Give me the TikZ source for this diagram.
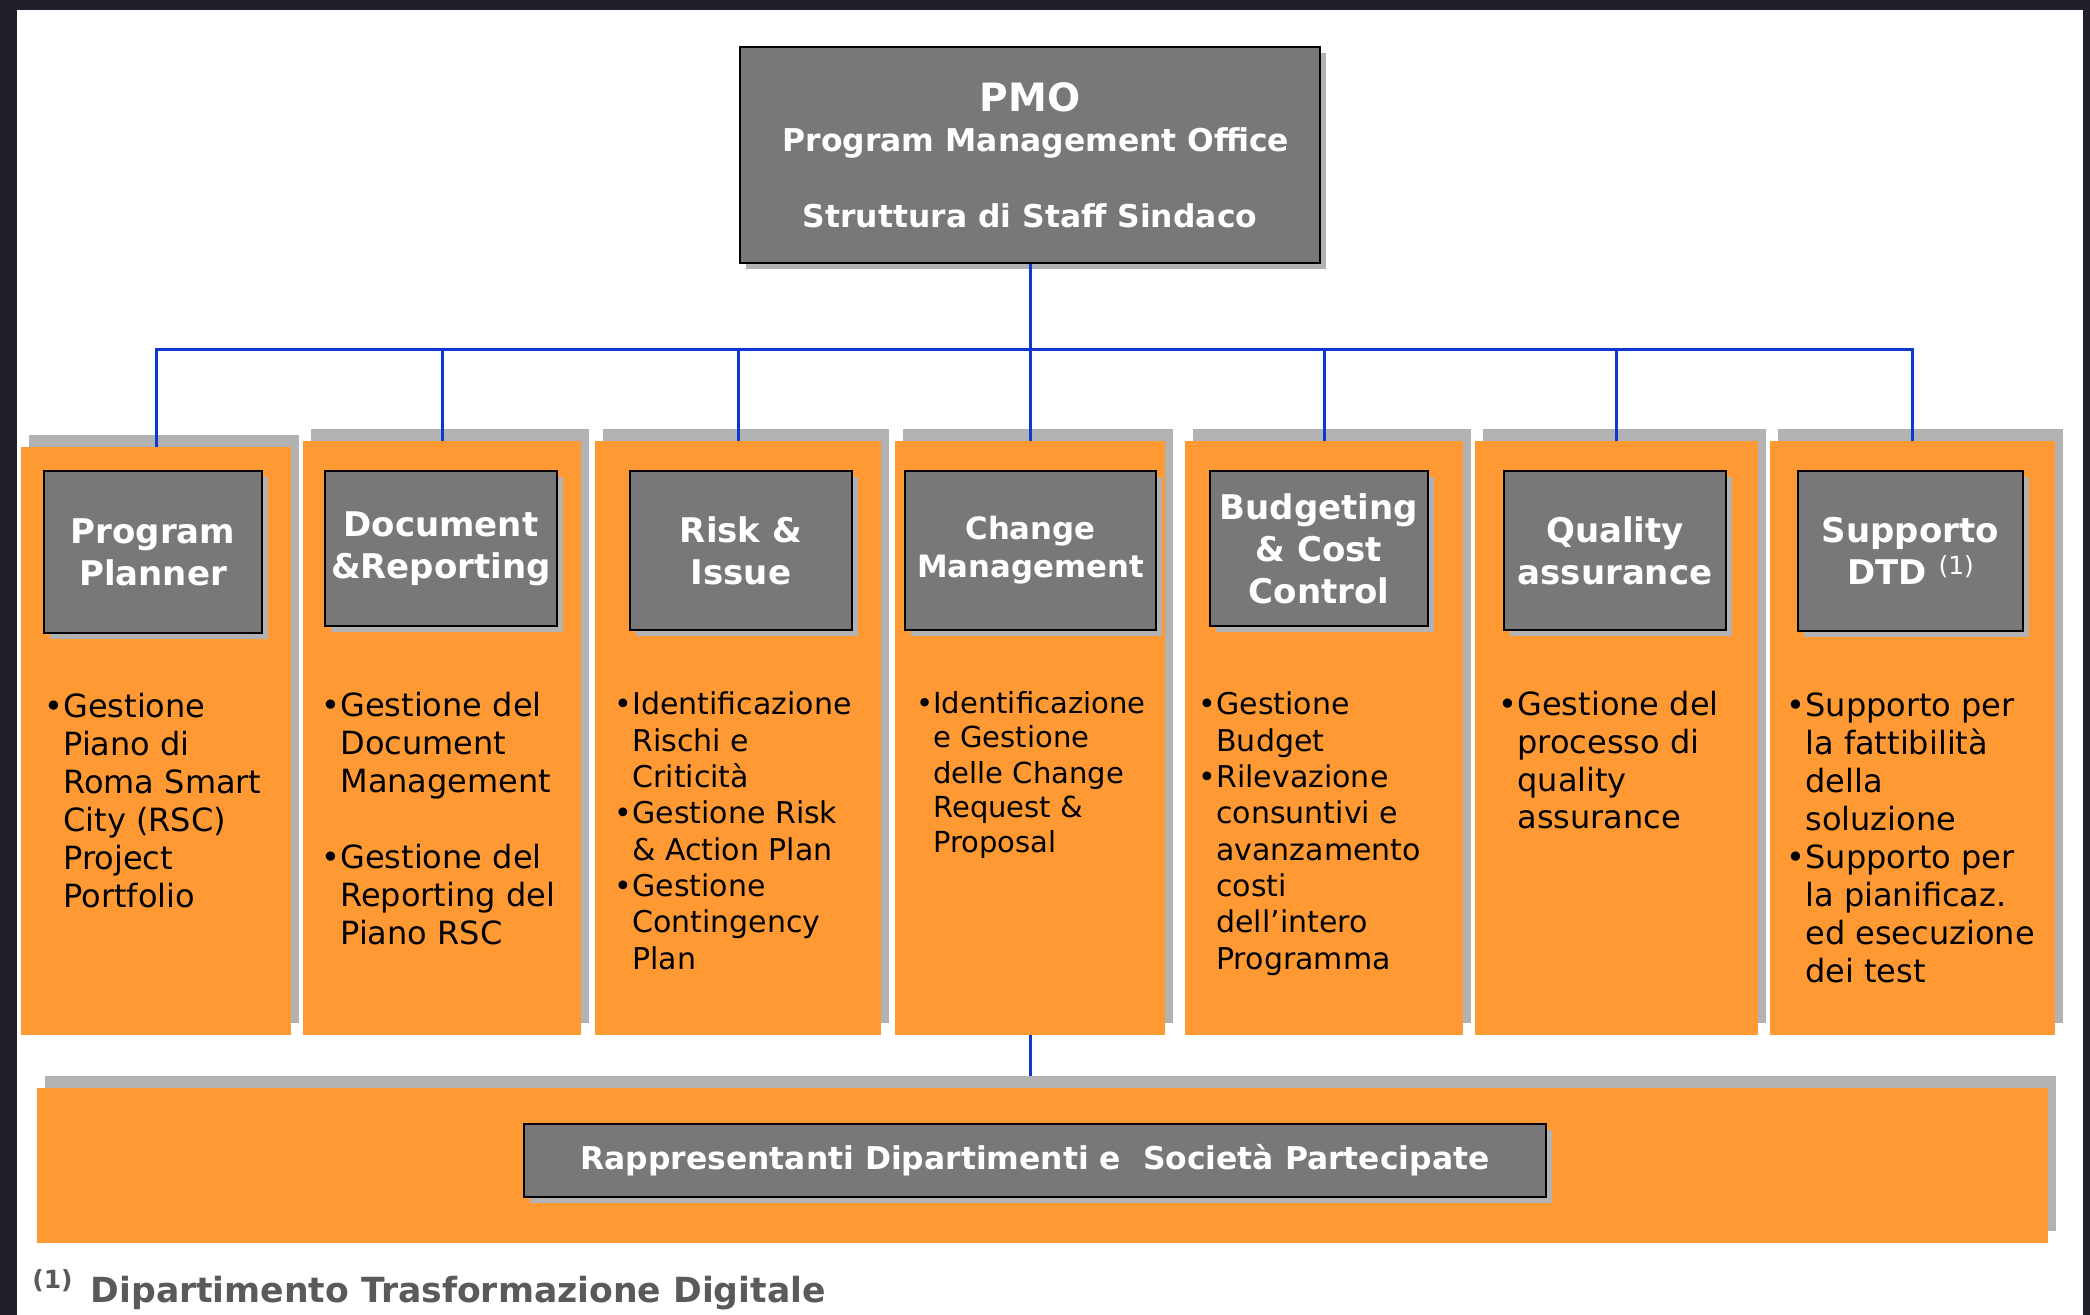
\documentclass[tikz,border=0pt]{standalone}
\usepackage{fontspec}
\setmainfont{DejaVu Sans}
\usetikzlibrary{shadows}
\definecolor{framedark}{RGB}{31,32,42}
\definecolor{boxgray}{RGB}{120,120,120}
\definecolor{shgray}{RGB}{178,178,178}
\definecolor{orng}{RGB}{254,153,51}
\definecolor{linkblue}{RGB}{16,56,208}
\definecolor{notegray}{RGB}{90,90,90}
\newcommand{\itm}{\llap{\textbullet}}
\begin{document}
\begin{tikzpicture}[x=0.5pt, y=-0.5pt,
    colbox/.style={rectangle, fill=orng, inner sep=0pt, minimum height=297pt,
        drop shadow={shadow xshift=4pt, shadow yshift=6pt, fill=shgray, opacity=1}},
    hdbox/.style={rectangle, fill=boxgray, draw=black, line width=1pt, text=white,
        align=center, inner sep=0pt, font=\bfseries\fontsize{17}{21}\selectfont,
        drop shadow={shadow xshift=3pt, shadow yshift=-3pt, fill=shgray, opacity=1}},
    bodytxt/.style={anchor=base west, align=left, inner sep=0pt, font=\fontsize{16}{19}\selectfont},
    link/.style={linkblue, line width=1.5pt}]
% \draw[help lines] (0,0) grid (2090,1315);
\fill[framedark] (0,0) rectangle (2090,1315);
\fill[white] (17,10) rectangle (2083,1315);
\useasboundingbox (0,0) rectangle (2090,1315);

\begin{scope}
    % the seven orange columns
    \node[colbox, minimum width=135pt, minimum height=294pt] (col1) at (156,741) {};
    \foreach \n/\cx/\w in {2/442/139, 3/738/143, 4/1030/135, 5/1324/139, 6/1616.5/141.5, 7/1912.5/142.5}
        \node[colbox, minimum width=\w pt] (col\n) at (\cx,738) {};

    % headers
    \foreach \n/\cx/\cy/\w/\h/\txt in {1/153/552/109/81/{Program\\Planner},
        2/441/548.5/116/77.5/{Document\\\&Reporting},
        3/741/550.5/111/79.5/{Risk \&\\Issue},
        5/1319/548.5/109/77.5/{Budgeting\\\& Cost\\Control},
        6/1615/550.5/111/79.5/{Quality\\assurance},
        7/1910.5/551/112.5/80/{Supporto\\DTD \raisebox{5pt}{\mdseries\fontsize{12.5}{12.5}\selectfont(1)}}}
        \node[hdbox, minimum width=\w pt, minimum height=\h pt] (hd\n) at (\cx,\cy) {\txt};
    \node[hdbox, minimum width=125.5pt, minimum height=79.5pt,
        font=\bfseries\fontsize{15.4}{19}\selectfont] (hd4) at (1030.5,550.5) {Change\\Management};
\end{scope}

\begin{scope}
    % bullet texts (placed by the baseline of their last line)
    \node[bodytxt] (txt1) at (63,907) {\itm Gestione\\Piano di\\Roma Smart\\City (RSC)\\Project\\Portfolio};
    \node[bodytxt] (txt2) at (340,944) {\itm Gestione del\\Document\\Management\\[19pt]\itm Gestione del\\Reporting del\\Piano RSC};
    \node[bodytxt, font=\fontsize{15}{18.15}\selectfont] (txt3) at (632,969)
        {\itm Identificazione\\Rischi e\\Criticità\\\itm Gestione Risk\\\& Action Plan\\\itm Gestione\\Contingency\\Plan};
    \node[bodytxt, font=\fontsize{14.5}{17.5}\selectfont] (txt4) at (933,853)
        {\itm Identificazione\\e Gestione\\delle Change\\Request \&\\Proposal};
    \node[bodytxt, font=\fontsize{15}{18.15}\selectfont] (txt5) at (1216,969)
        {\itm Gestione\\Budget\\\itm Rilevazione\\consuntivi e\\avanzamento\\costi\\dell’intero\\Programma};
    \node[bodytxt] (txt6) at (1517,829) {\itm Gestione del\\processo di\\quality\\assurance};
    \node[bodytxt] (txt7) at (1805,982) {\itm Supporto per\\la fattibilità\\della\\soluzione\\\itm Supporto per\\la pianificaz.\\ed esecuzione\\dei test};
\end{scope}

\begin{scope}
    \node[hdbox, minimum width=290pt, minimum height=108pt,
        font=\bfseries\fontsize{15.7}{19}\selectfont] (pmo) at (1030,155)
        {{\fontsize{19.5}{20}\selectfont PMO}\\[1pt]\hspace{6pt}Program Management Office\\[19pt]Struttura di Staff Sindaco};
    \node[colbox, minimum width=1005.5pt, minimum height=77.5pt] (band) at (1042.5,1165.5) {};
    \node[hdbox, minimum width=511pt, minimum height=36.5pt,
        font=\bfseries\fontsize{15.7}{19}\selectfont] (rap) at (1035,1160.5)
        {Rappresentanti Dipartimenti e~ Società Partecipate};
    \node[anchor=base west, inner sep=0pt, text=notegray,
        font=\bfseries\fontsize{17.3}{19}\selectfont] (fnote) at (32,1302)
        {\raisebox{7pt}{\fontsize{12.5}{12.5}\selectfont(1)}\hspace{9pt}Dipartimento Trasformazione Digitale};
\end{scope}

\begin{scope}
    \coordinate (bus) at (1030,350);
    \draw[link] (pmo.south) -- (bus);
    \foreach \n in {1,...,7}
        \draw[link] (bus) -| (col\n.north);
    \draw[link] (col4.south) -- ([yshift=6pt]band.north -| col4.south);
\end{scope}
\end{tikzpicture}
\end{document}
